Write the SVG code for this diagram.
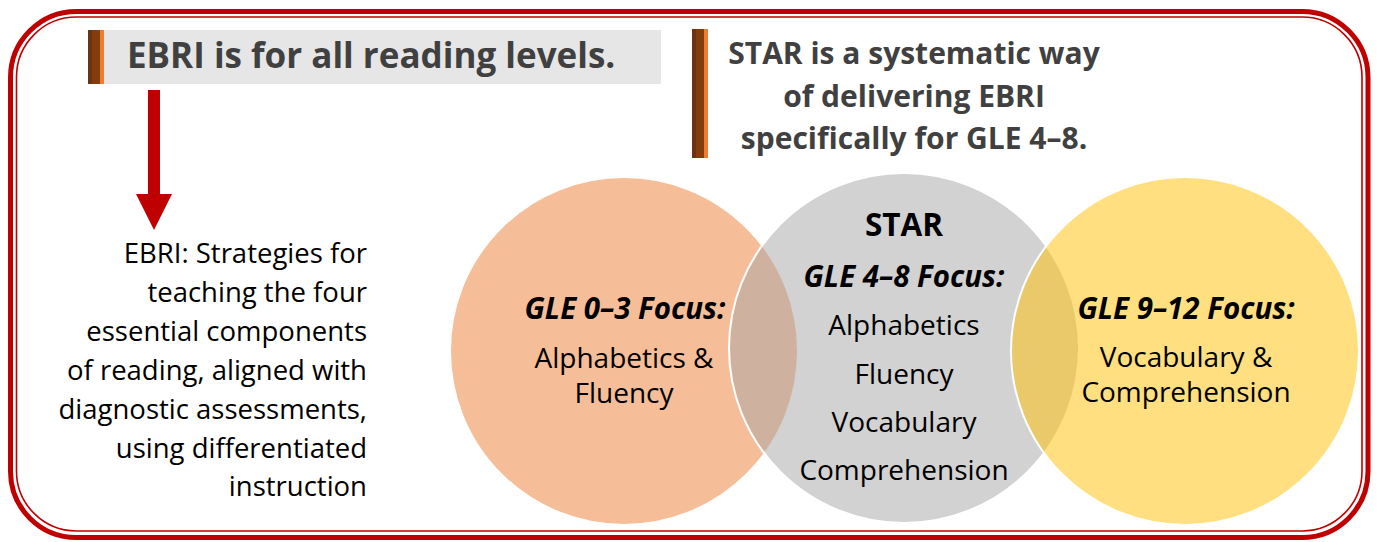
<svg xmlns="http://www.w3.org/2000/svg" width="1379" height="542" viewBox="0 0 1379 542">
<style>
.hdr{font-family:"Open Sans","Noto Sans",sans-serif;font-weight:bold;font-size:30px;fill:#404040}
.h1{font-size:35px}
.t{font-family:"Open Sans","Noto Sans",sans-serif;font-size:28px;fill:#000}
.l{font-size:27.5px}
.fb{font-family:"Open Sans","Noto Sans",sans-serif;font-size:29.5px;font-weight:bold;font-style:italic;fill:#000}
.star{font-family:"Open Sans","Noto Sans",sans-serif;font-size:31.5px;font-weight:bold;fill:#000}
.c{stroke:#fff;stroke-width:2;fill-opacity:0.5}
</style>
<rect width="1379" height="542" fill="#fff"/>
<g id="frame" fill="none" stroke="#C00000">
<rect x="10.5" y="11.5" width="1357.5" height="526" rx="66" stroke-width="5"/>
<rect x="16.5" y="17" width="1345.5" height="514" rx="60" stroke-width="1.6"/>
</g>
<g id="header1">
<rect x="104" y="30" width="557" height="54" fill="#E6E6E6"/>
<rect x="88" y="30" width="4" height="54" fill="#6B3410"/>
<rect x="92" y="30" width="8" height="54" fill="#843C0C"/>
<rect x="100" y="30" width="4" height="54" fill="#ED7D31"/>
<text class="hdr h1" x="127" y="68">EBRI is for all reading levels.</text>
</g>
<g id="header2">
<rect x="692" y="29" width="4" height="129" fill="#6B3410"/>
<rect x="696" y="29" width="8" height="129" fill="#843C0C"/>
<rect x="704" y="29" width="4" height="129" fill="#ED7D31"/>
<text class="hdr" text-anchor="middle" x="914"><tspan x="914" y="64">STAR is a systematic way</tspan><tspan x="914" y="107">of delivering EBRI</tspan><tspan x="914" y="149">specifically for GLE 4–8.</tspan></text>
</g>
<g id="connectors">
<path d="M148 90 H160 V194 H172 L154 230 L136 194 H148 Z" fill="#C00000"/>
</g>
<g id="ebri-text">
<text class="t l" text-anchor="end"><tspan x="367" y="263">EBRI: Strategies for</tspan><tspan x="367" y="302">teaching the four</tspan><tspan x="367" y="341">essential components</tspan><tspan x="367" y="380">of reading, aligned with</tspan><tspan x="367" y="419">diagnostic assessments,</tspan><tspan x="367" y="458">using differentiated</tspan><tspan x="367" y="496">instruction</tspan></text>
</g>
<g id="circle-gle03">
<circle class="c" cx="624" cy="351" r="174" fill="#ED7D31"/>
</g>
<g id="circle-star">
<circle class="c" cx="904" cy="348" r="175" fill="#A5A5A5"/>
</g>
<g id="circle-gle912">
<circle class="c" cx="1185" cy="351" r="174" fill="#FFC000"/>
</g>
<g id="labels">
<text class="fb" text-anchor="middle" x="625" y="319">GLE 0–3 Focus:</text>
<text class="t" text-anchor="middle"><tspan x="624" y="368">Alphabetics &amp;</tspan><tspan x="624" y="403">Fluency</tspan></text>
<text class="star" text-anchor="middle" x="904" y="236">STAR</text>
<text class="fb" text-anchor="middle" x="904" y="287">GLE 4–8 Focus:</text>
<text class="t" text-anchor="middle"><tspan x="904" y="335">Alphabetics</tspan><tspan x="904" y="384">Fluency</tspan><tspan x="904" y="432">Vocabulary</tspan><tspan x="904" y="480">Comprehension</tspan></text>
<text class="fb" text-anchor="middle" x="1186" y="319">GLE 9–12 Focus:</text>
<text class="t" text-anchor="middle"><tspan x="1186" y="367">Vocabulary &amp;</tspan><tspan x="1186" y="402">Comprehension</tspan></text>
</g>
</svg>
